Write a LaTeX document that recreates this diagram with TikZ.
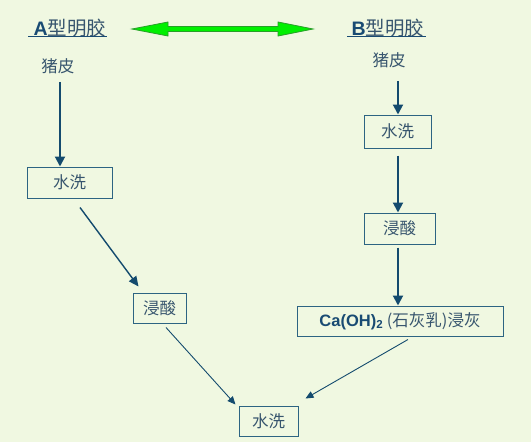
\documentclass[tikz,border=0pt]{standalone}
\usepackage{fontspec}
\setmainfont{Noto Sans CJK SC}
\newfontfamily\lat{Liberation Sans}
\usetikzlibrary{arrows.meta}
\definecolor{bg}{RGB}{240,248,225}
\definecolor{txt}{RGB}{55,85,110}
\definecolor{navy}{RGB}{25,75,115}
\definecolor{boxc}{RGB}{45,100,130}
\definecolor{arrc}{RGB}{20,75,110}
\definecolor{gfill}{RGB}{0,240,0}
\definecolor{gline}{RGB}{40,160,40}
\tikzset{
  stepbox/.style={draw=boxc, line width=1pt, minimum height=30pt, inner sep=0pt, text=txt, font=\fontsize{16.5}{16.5}\selectfont},
  plain/.style={text=txt, inner sep=0pt, font=\fontsize{16.5}{16.5}\selectfont},
  title/.style={text=txt, inner sep=0pt, font=\fontsize{19.5}{19.5}\selectfont},
  thick arr/.style={draw=arrc, line width=2pt, -{Triangle[length=10pt,width=10pt]}},
  mid arr/.style={draw=arrc, line width=1.4pt, -{Triangle[length=10pt,width=9pt]}},
  thin arr/.style={draw=arrc, line width=0.9pt, -{Triangle[length=8pt,width=7pt]}},
}
\begin{document}
\begin{tikzpicture}[x=1pt,y=-1pt]
\useasboundingbox (0,0) rectangle (531,445);
\fill[white] (0,0) rectangle (531,445);
\fill[bg] (0,0) rectangle (531,442);
% titles
\node[title] (tA) at (70,28) {{\lat\bfseries\color{navy}A}型明胶};
\node[title] (tB) at (388,28) {{\lat\bfseries\color{navy}B}型明胶};
\draw[navy, line width=1.5pt] (28,36.5) -- (107,36.5);
\draw[navy, line width=1.5pt] (347,36.5) -- (426,36.5);
% double green arrow
\draw[gline, fill=gfill, line width=0.8pt] (132,29) -- (168,22) -- (168,26.5) -- (278,26.5) -- (278,22) -- (313,29) -- (278,36) -- (278,31.5) -- (168,31.5) -- (168,36) -- cycle;
% left column
\node[plain] (pigA) at (58,66) {猪皮};
\node[stepbox, minimum width=85pt, minimum height=31pt] (washA) at (69.5,182.5) {水洗};
\node[stepbox, minimum width=53pt] (acidA) at (159.5,308) {浸酸};
% right column
\node[plain] (pigB) at (389,60) {猪皮};
\node[stepbox, minimum width=67pt, minimum height=33pt] (washB) at (397.5,131.5) {水洗};
\node[stepbox, minimum width=71pt, minimum height=31pt] (acidB) at (399.5,228.5) {浸酸};
\node[stepbox, minimum width=206pt] (lime) at (400,321) {{\lat\bfseries\color{navy}Ca(OH)\textsubscript{2}} (石灰乳)浸灰};
% bottom
\node[stepbox, minimum width=59pt] (washC) at (268.5,421) {水洗};
\coordinate (colA) at (60,0);
\coordinate (colB) at (398,0);
% connectors
\draw[thick arr] ([yshift=-8pt]pigA.south -| colA) -- (washA.north -| colA);
\draw[thick arr] ([yshift=-13pt]pigB.south -| colB) -- (washB.north -| colB);
\draw[thick arr] ([yshift=-7pt]washB.south -| colB) -- (acidB.north -| colB);
\draw[thick arr] ([yshift=-3pt]acidB.south -| colB) -- (lime.north -| colB);
\draw[mid arr] ([xshift=10.5pt,yshift=-9pt]washA.south) -- ([xshift=6pt,yshift=6pt]acidA.north west);
\draw[thin arr] ([xshift=6.5pt,yshift=-4pt]acidA.south) -- ([xshift=-3pt,yshift=1pt]washC.north west);
\draw[thin arr] ([xshift=8pt,yshift=-3pt]lime.south) -- ([xshift=7pt,yshift=7pt]washC.north east);
\end{tikzpicture}
\end{document}
